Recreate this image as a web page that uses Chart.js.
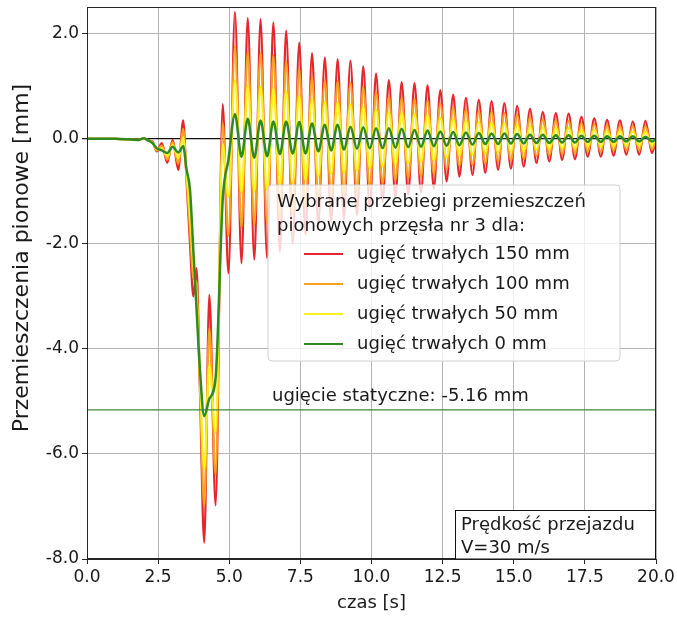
<!DOCTYPE html>
<html lang="pl">
<head>
<meta charset="utf-8">
<title>Przemieszczenia pionowe przęsła nr 3</title>
<script src="https://cdn.jsdelivr.net/npm/chart.js@4.4.1/dist/chart.umd.min.js"></script>
<style>
  html, body { margin: 0; padding: 0; background: #fff; }
  #wrap { width: 677px; height: 617px; }
</style>
</head>
<body>
<div id="wrap"><canvas id="wykres" width="677" height="617"></canvas></div>
<script>
// czas [s] - wspolny dla wszystkich przebiegow
const czas = [
  0.0, 1.0, 1.8, 2.0, 2.15, 2.3, 2.45, 2.63, 2.82, 3.01, 3.21, 3.38, 3.5, 3.62, 3.74, 3.85, 3.97, 4.12, 4.30, 4.52, 4.77, 4.97,
  5.20, 5.43, 5.65, 5.88, 6.10, 6.33, 6.55, 6.78, 7.00, 7.23, 7.46, 7.68, 7.91, 8.13, 8.36, 8.58, 8.81, 9.03, 9.26, 9.49,
  9.71, 9.94, 10.16, 10.39, 10.61, 10.84, 11.06, 11.29, 11.51, 11.74, 11.97, 12.19, 12.42, 12.64, 12.87, 13.09, 13.32, 13.55,
  13.77, 14.00, 14.22, 14.45, 14.67, 14.90, 15.12, 15.35, 15.57, 15.80, 16.02, 16.25, 16.48, 16.70, 16.93, 17.15, 17.38, 17.60,
  17.83, 18.06, 18.28, 18.51, 18.73, 18.96, 19.18, 19.41, 19.63, 19.86, 20.0
];

// przemieszczenia [mm]
const trwale150 = [
  0, 0, -0.02, 0.01, -0.03, -0.05, -0.24, -0.08, -0.46, -0.02, -0.59, 0.35, -0.8, -2.0, -3.0, -2.46, -4.8, -7.69, -2.97, -6.98, 0.66, -2.56,
  2.42, -2.37, 2.30, -2.30, 2.28, -2.27, 2.22, -2.15, 2.06, -2.00, 1.83, -1.82, 1.63, -1.66, 1.55, -1.58, 1.52, -1.52, 1.49, -1.45,
  1.38, -1.33, 1.24, -1.20, 1.12, -1.12, 1.08, -1.06, 1.06, -1.02, 1.02, -0.95, 0.93, -0.81, 0.84, -0.72, 0.78, -0.69,
  0.74, -0.65, 0.72, -0.59, 0.68, -0.57, 0.63, -0.53, 0.57, -0.46, 0.51, -0.43, 0.49, -0.40, 0.48, -0.39, 0.42, -0.34,
  0.39, -0.34, 0.36, -0.32, 0.35, -0.30, 0.33, -0.30, 0.34, -0.27, 0.0
];
const trwale100 = [
  0, 0, -0.02, 0.01, -0.03, -0.06, -0.22, -0.13, -0.40, -0.06, -0.48, 0.19, -0.75, -1.75, -2.65, -2.75, -4.7, -7.0, -3.6, -6.4, 0.30, -1.85,
  1.77, -1.69, 1.66, -1.65, 1.64, -1.62, 1.59, -1.53, 1.48, -1.43, 1.33, -1.31, 1.18, -1.19, 1.12, -1.13, 1.10, -1.08, 1.07, -1.03,
  0.99, -0.95, 0.89, -0.86, 0.81, -0.80, 0.78, -0.76, 0.76, -0.73, 0.73, -0.68, 0.67, -0.58, 0.60, -0.52, 0.56, -0.50,
  0.53, -0.47, 0.51, -0.43, 0.49, -0.41, 0.45, -0.38, 0.41, -0.33, 0.37, -0.31, 0.35, -0.29, 0.34, -0.28, 0.30, -0.25,
  0.28, -0.25, 0.26, -0.23, 0.25, -0.22, 0.24, -0.22, 0.24, -0.20, 0.0
];
const trwale50 = [
  0, 0, -0.02, 0.01, -0.03, -0.07, -0.20, -0.18, -0.33, -0.11, -0.37, 0.03, -0.68, -1.45, -2.4, -3.0, -4.55, -6.3, -4.3, -5.6, -0.10, -1.10,
  1.12, -1.02, 1.02, -1.01, 0.99, -0.98, 0.96, -0.91, 0.91, -0.85, 0.82, -0.79, 0.74, -0.71, 0.70, -0.67, 0.69, -0.65, 0.65, -0.61,
  0.61, -0.56, 0.55, -0.52, 0.51, -0.49, 0.49, -0.46, 0.47, -0.44, 0.45, -0.41, 0.40, -0.36, 0.37, -0.32, 0.34, -0.30,
  0.32, -0.28, 0.31, -0.26, 0.29, -0.25, 0.27, -0.24, 0.24, -0.21, 0.22, -0.20, 0.21, -0.18, 0.21, -0.18, 0.18, -0.15,
  0.17, -0.15, 0.15, -0.15, 0.15, -0.13, 0.14, -0.13, 0.14, -0.12, 0.0
];
const trwale0 = [
  0, 0, -0.02, 0.01, -0.03, -0.08, -0.18, -0.22, -0.27, -0.15, -0.26, -0.14, -0.59, -0.97, -2.15, -3.23, -4.4, -5.28, -4.95, -4.55, -1.16, -0.40,
  0.47, -0.34, 0.38, -0.36, 0.35, -0.33, 0.33, -0.29, 0.33, -0.28, 0.32, -0.28, 0.29, -0.24, 0.27, -0.22, 0.27, -0.21, 0.23, -0.19,
  0.22, -0.18, 0.20, -0.18, 0.20, -0.17, 0.19, -0.16, 0.17, -0.15, 0.16, -0.14, 0.14, -0.13, 0.13, -0.12, 0.12, -0.11,
  0.11, -0.10, 0.10, -0.10, 0.10, -0.09, 0.09, -0.09, 0.08, -0.08, 0.08, -0.08, 0.07, -0.07, 0.07, -0.07, 0.06, -0.06,
  0.06, -0.06, 0.05, -0.06, 0.05, -0.05, 0.05, -0.05, 0.04, -0.05, 0.0
];

const ugiecieStatyczne = -5.16;
const xTicki = [0, 2.5, 5, 7.5, 10, 12.5, 15, 17.5, 20];
const yTicki = [-8, -6, -4, -2, 0, 2];

const FONT = '"DejaVu Sans", "Liberation Sans", sans-serif';
const KOLOR_TEKSTU = '#1a1a1a';

const serie = [
  { label: 'ugięć trwałych 150 mm', dane: trwale150, kolor: '#e6262b', grubosc: 2.2 },
  { label: 'ugięć trwałych 100 mm', dane: trwale100, kolor: '#f8a11f', grubosc: 2.2 },
  { label: 'ugięć trwałych 50 mm', dane: trwale50, kolor: '#f7f21a', grubosc: 2.2 },
  { label: 'ugięć trwałych 0 mm', dane: trwale0, kolor: '#2f8a22', grubosc: 2.5 }
];

function naPunkty(wartosci) {
  return czas.map((t, i) => ({ x: t, y: wartosci[i] }));
}

const datasets = serie.map((s, i) => ({
  label: s.label,
  data: naPunkty(s.dane),
  borderColor: s.kolor,
  borderWidth: s.grubosc,
  pointRadius: 0,
  fill: false,
  cubicInterpolationMode: 'monotone',
  order: serie.length - i // czerwony na spodzie, zielony na wierzchu
}));

// linia ugiecia statycznego
datasets.push({
  label: 'ugięcie statyczne',
  data: [{ x: xTicki[0], y: ugiecieStatyczne }, { x: xTicki[xTicki.length - 1], y: ugiecieStatyczne }],
  borderColor: '#3c8a3c',
  borderWidth: 1.2,
  pointRadius: 0,
  order: -1
});

// ramka, legenda i opisy rysowane na wierzchu
const opisy = {
  id: 'opisy',
  afterDraw(chart) {
    const { ctx, chartArea: a } = chart;
    const sy = chart.scales.y;
    ctx.save();

    // ramka osi
    ctx.strokeStyle = '#262626';
    ctx.lineWidth = 1;
    ctx.strokeRect(a.left + 0.5, a.top + 0.5, a.right - a.left - 1, a.bottom - a.top - 1);

    // opis osi y
    ctx.save();
    ctx.translate(22, 258);
    ctx.rotate(-Math.PI / 2);
    ctx.font = '22px ' + FONT;
    ctx.fillStyle = KOLOR_TEKSTU;
    ctx.textAlign = 'center';
    ctx.textBaseline = 'middle';
    ctx.fillText('Przemieszczenia pionowe [mm]', 0, 0);
    ctx.restore();

    ctx.font = '18px ' + FONT;
    ctx.fillStyle = KOLOR_TEKSTU;
    ctx.textBaseline = 'middle';
    ctx.textAlign = 'left';

    // opis ugiecia statycznego
    ctx.fillText('ugięcie statyczne: ' + ugiecieStatyczne.toFixed(2) + ' mm', 272, sy.getPixelForValue(ugiecieStatyczne) - 14);

    // legenda
    const lx = 268, ly = 185, lw = 352, lh = 176;
    ctx.beginPath();
    ctx.roundRect(lx, ly, lw, lh, 4);
    ctx.fillStyle = 'rgba(255,255,255,0.8)';
    ctx.fill();
    ctx.strokeStyle = '#d0d0d0';
    ctx.stroke();

    ctx.fillStyle = KOLOR_TEKSTU;
    ctx.fillText('Wybrane przebiegi przemieszczeń', 277, 202);
    ctx.fillText('pionowych przęsła nr 3 dla:', 277, 226);
    serie.forEach((s, i) => {
      const y = 254 + i * 30;
      ctx.beginPath();
      ctx.moveTo(304, y);
      ctx.lineTo(343, y);
      ctx.strokeStyle = s.kolor;
      ctx.lineWidth = 2.2;
      ctx.stroke();
      ctx.fillStyle = KOLOR_TEKSTU;
      ctx.fillText(s.label, 357, y);
    });

    // predkosc przejazdu
    ctx.fillStyle = '#fff';
    ctx.fillRect(455.5, 510.5, a.right - 455.5, a.bottom - 510.5);
    ctx.strokeStyle = '#111';
    ctx.lineWidth = 1;
    ctx.strokeRect(455.5, 510.5, a.right - 456, a.bottom - 510.5);
    ctx.fillStyle = KOLOR_TEKSTU;
    ctx.fillText('Prędkość przejazdu', 461, 525);
    ctx.fillText('V=30 m/s', 461, 548);

    ctx.restore();
  }
};

new Chart(document.getElementById('wykres'), {
  type: 'line',
  data: { datasets: datasets },
  options: {
    responsive: false,
    animation: false,
    layout: { padding: { top: 7, right: 21, left: 0, bottom: 0 } },
    plugins: {
      legend: { display: false },
      tooltip: { enabled: false }
    },
    scales: {
      x: {
        type: 'linear',
        min: 0,
        max: 20,
        afterBuildTicks: scale => { scale.ticks = xTicki.map(v => ({ value: v })); },
        afterFit: scale => { scale.height = 58; scale.paddingLeft = 0; scale.paddingRight = 0; },
        ticks: {
          font: { family: FONT, size: 17 },
          color: KOLOR_TEKSTU,
          padding: 3,
          maxRotation: 0,
          callback: v => v.toFixed(1)
        },
        grid: { color: '#b4b4b4', lineWidth: 1, tickLength: 5, tickColor: '#262626' },
        border: { color: '#262626', width: 1 },
        title: {
          display: true,
          text: 'czas [s]',
          font: { family: FONT, size: 18 },
          color: KOLOR_TEKSTU,
          padding: { top: 0, bottom: 3 }
        }
      },
      y: {
        type: 'linear',
        min: -8,
        max: 2.51,
        afterBuildTicks: scale => { scale.ticks = yTicki.map(v => ({ value: v })); },
        afterFit: scale => { scale.width = 87; scale.paddingTop = 0; scale.paddingBottom = 0; },
        ticks: {
          font: { family: FONT, size: 17 },
          color: KOLOR_TEKSTU,
          padding: 3,
          callback: v => v.toFixed(1)
        },
        grid: {
          color: c => (c.tick && c.tick.value === 0 ? '#111' : '#b4b4b4'),
          lineWidth: c => (c.tick && c.tick.value === 0 ? 1.3 : 1),
          tickLength: 5,
          tickColor: '#262626'
        },
        border: { color: '#262626', width: 1 }
      }
    }
  },
  plugins: [opisy]
});
</script>
</body>
</html>
